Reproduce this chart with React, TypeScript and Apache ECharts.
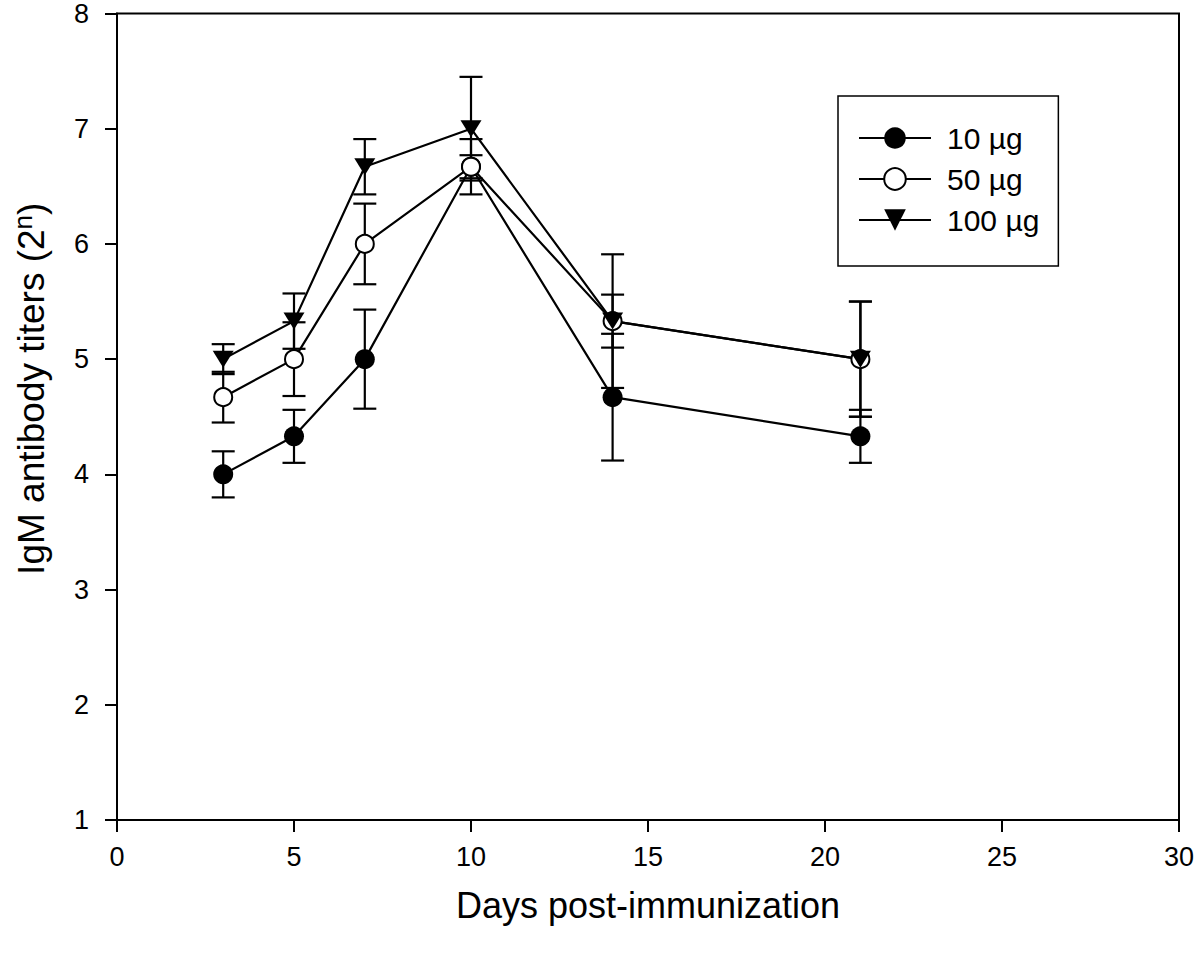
import React, { useEffect, useRef } from "react";
import * as echarts from "echarts";

const days = [3, 5, 7, 10, 14, 21];
const seriesNames = ["10 µg", "50 µg", "100 µg"];
const mean10 = [4.0, 4.33, 5.0, 6.67, 4.67, 4.33];
const err10 = [0.2, 0.23, 0.43, 0.1, 0.55, 0.23];
const mean50 = [4.67, 5.0, 6.0, 6.67, 5.33, 5.0];
const err50 = [0.22, 0.32, 0.35, 0.24, 0.58, 0.5];
const mean100 = [5.0, 5.33, 6.67, 7.0, 5.33, 5.0];
const err100 = [0.13, 0.24, 0.24, 0.45, 0.23, 0.5];

const FONT = "Liberation Sans, Arial, sans-serif";

function errSeries(means: number[], errs: number[], name: string) {
  return {
    type: "custom",
    name,
    z: 1,
    silent: true,
    data: days.map((d, i) => [d, means[i] - errs[i], means[i] + errs[i]]),
    renderItem: (params: any, api: any) => {
      const x = api.value(0);
      const lo = api.coord([x, api.value(1)]);
      const hi = api.coord([x, api.value(2)]);
      const hw = 11.5;
      const style = { stroke: "#000", lineWidth: 2.2 };
      return {
        type: "group",
        children: [
          { type: "line", shape: { x1: lo[0], y1: lo[1], x2: hi[0], y2: hi[1] }, style },
          { type: "line", shape: { x1: lo[0] - hw, y1: lo[1], x2: lo[0] + hw, y2: lo[1] }, style },
          { type: "line", shape: { x1: hi[0] - hw, y1: hi[1], x2: hi[0] + hw, y2: hi[1] }, style },
        ],
      };
    },
  };
}

export default function App() {
  const ref = useRef<HTMLDivElement>(null);
  useEffect(() => {
    const chart = echarts.init(ref.current!, null, { renderer: "svg" });
    const lineCommon = {
      type: "line",
      z: 3,
      lineStyle: { color: "#000", width: 2.2 },
      showSymbol: true,
    };
    chart.setOption({
      animation: false,
      backgroundColor: "#fff",
      grid: {
        left: 117,
        right: 21,
        top: 13,
        bottom: 134,
        show: true,
        borderColor: "#000",
        borderWidth: 2,
        backgroundColor: "transparent",
      },
      legend: {
        orient: "vertical",
        left: 838,
        top: 96,
        padding: [27, 19, 31, 20],
        itemWidth: 72,
        itemHeight: 27,
        itemGap: 11,
        borderColor: "#000",
        borderWidth: 1.5,
        data: seriesNames,
        textStyle: { fontFamily: FONT, fontSize: 30, color: "#000", padding: [0, 0, 0, 11] },
      },
      xAxis: {
        type: "value",
        min: 0,
        max: 30,
        interval: 5,
        name: "Days post-immunization",
        nameLocation: "middle",
        nameGap: 67,
        nameTextStyle: { fontFamily: FONT, fontSize: 36, color: "#000" },
        axisLine: { lineStyle: { color: "#000", width: 2 } },
        axisTick: { show: true, inside: false, length: 12, lineStyle: { color: "#000", width: 2 } },
        axisLabel: { fontFamily: FONT, fontSize: 27, color: "#000", margin: 23 },
        splitLine: { show: false },
      },
      yAxis: {
        type: "value",
        min: 1,
        max: 8,
        interval: 1,
        name: "{a|IgM antibody titers (2}{b|n}{a|)}",
        nameLocation: "middle",
        nameGap: 65,
        nameTextStyle: {
          color: "#000",
          padding: [0, 0, 0, 56],
          rich: {
            a: { fontFamily: FONT, fontSize: 37, color: "#000" },
            b: { fontFamily: FONT, fontSize: 26, color: "#000", verticalAlign: "top", padding: [0, 0, 16, 0] },
          },
        },
        axisLine: { lineStyle: { color: "#000", width: 2 } },
        axisTick: { show: true, inside: false, length: 12, lineStyle: { color: "#000", width: 2 } },
        axisLabel: { fontFamily: FONT, fontSize: 27, color: "#000", margin: 28 },
        splitLine: { show: false },
      },
      series: [
        errSeries(mean10, err10, "e10"),
        errSeries(mean50, err50, "e50"),
        errSeries(mean100, err100, "e100"),
        {
          ...lineCommon,
          name: seriesNames[0],
          data: days.map((d, i) => [d, mean10[i]]),
          symbol: "circle",
          symbolSize: 20,
          itemStyle: { color: "#000", borderColor: "#000", borderWidth: 0 },
        },
        {
          ...lineCommon,
          name: seriesNames[1],
          data: days.map((d, i) => [d, mean50[i]]),
          symbol: "circle",
          symbolSize: 18,
          itemStyle: { color: "#fff", borderColor: "#000", borderWidth: 2 },
        },
        {
          ...lineCommon,
          name: seriesNames[2],
          data: days.map((d, i) => [d, mean100[i]]),
          symbol: "path://M0,0L20,0L10,17Z",
          symbolSize: [21, 17],
          itemStyle: { color: "#000", borderColor: "#000", borderWidth: 0 },
        },
      ],
    });
    return () => chart.dispose();
  }, []);
  return (
    <div
      ref={ref}
      style={{ position: "fixed", left: 0, top: 0, width: 1200, height: 954, background: "#fff" }}
    />
  );
}
